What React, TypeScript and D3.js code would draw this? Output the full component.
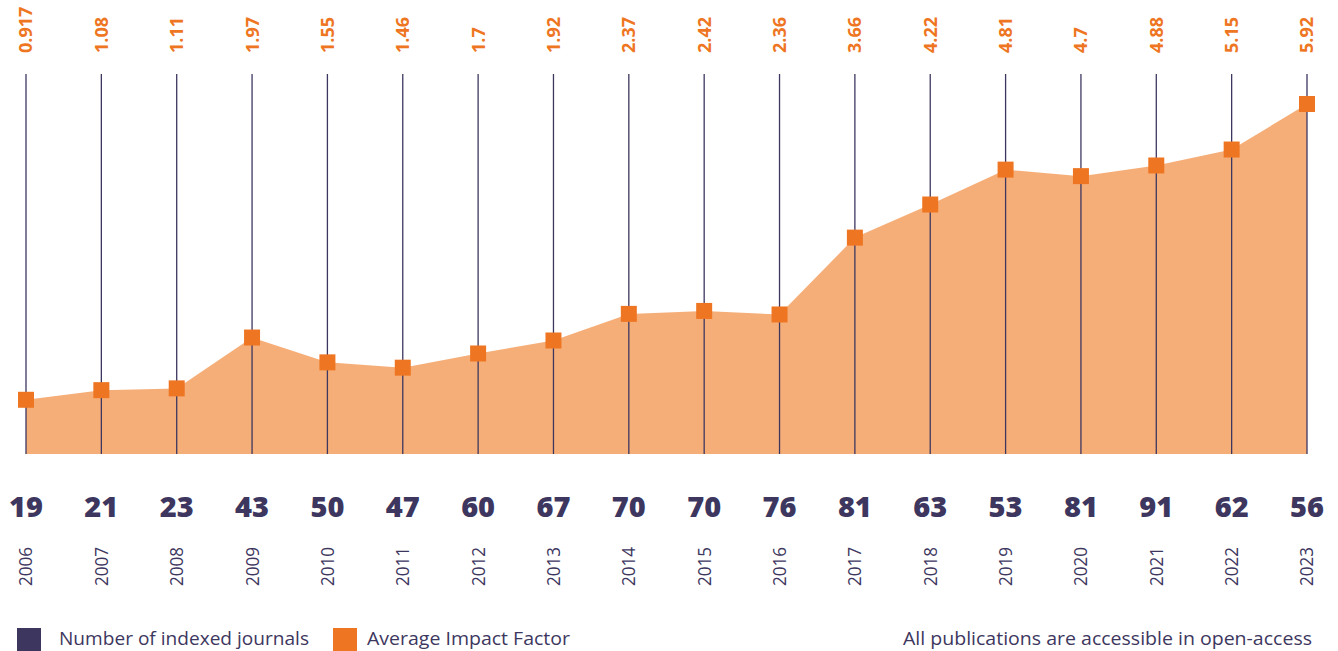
import React, { useEffect, useRef } from 'react';
import * as d3 from 'd3';

const years = ['2006', '2007', '2008', '2009', '2010', '2011', '2012', '2013', '2014', '2015', '2016', '2017', '2018', '2019', '2020', '2021', '2022', '2023'];
const journals = [19, 21, 23, 43, 50, 47, 60, 67, 70, 70, 76, 81, 63, 53, 81, 91, 62, 56];
const impact = [0.917, 1.08, 1.11, 1.97, 1.55, 1.46, 1.7, 1.92, 2.37, 2.42, 2.36, 3.66, 4.22, 4.81, 4.7, 4.88, 5.15, 5.92];
const legendItems = ['Number of indexed journals', 'Average Impact Factor'];
const note = 'All publications are accessible in open-access';

const PURPLE = '#3d3760';
const ORANGE = '#ee7623';
const AREA = '#f6ae78';

const App = () => {
  const chart = useRef<SVGSVGElement>(null);
  const width = 1338;
  const height = 651;
  const baseY = 454;
  const lineTop = 74;

  const x = d3.scalePoint<string>()
    .domain(years)
    .range([26, 1307]);

  const y = d3.scaleLinear()
    .domain([0, d3.max(impact) as number])
    .range([baseY, 104]);

  const draw = () => {
    const svg = d3.select(chart.current);
    svg.selectAll('*').remove();

    const rows = years.map((yr, i) => ({ yr, n: journals[i], v: impact[i] }));

    const area = d3.area<any>()
      .x(d => x(d.yr) as number)
      .y0(baseY)
      .y1(d => y(d.v));

    svg.append('path')
      .datum(rows)
      .attr('d', area)
      .attr('fill', AREA);

    // vertical guide lines
    svg.append('g')
      .selectAll('line')
      .data(rows)
      .join('line')
      .attr('x1', d => x(d.yr) as number)
      .attr('x2', d => x(d.yr) as number)
      .attr('y1', lineTop)
      .attr('y2', baseY)
      .attr('stroke', PURPLE)
      .attr('stroke-width', 1.3);

    // markers
    svg.append('g')
      .selectAll('rect')
      .data(rows)
      .join('rect')
      .attr('x', d => (x(d.yr) as number) - 8)
      .attr('y', d => y(d.v) - 8)
      .attr('width', 16)
      .attr('height', 16)
      .attr('fill', ORANGE);

    // impact factor labels on top
    svg.append('g')
      .selectAll('text')
      .data(rows)
      .join('text')
      .attr('transform', d => `translate(${x(d.yr)},53) rotate(-90)`)
      .attr('dy', '0.36em')
      .attr('text-anchor', 'start')
      .attr('font-family', '"Open Sans", sans-serif')
      .attr('font-weight', 700)
      .attr('font-size', 18)
      .attr('fill', ORANGE)
      .text(d => String(d.v));

    // journal counts
    svg.append('g')
      .selectAll('text')
      .data(rows)
      .join('text')
      .attr('x', d => x(d.yr) as number)
      .attr('y', 517)
      .attr('text-anchor', 'middle')
      .attr('font-family', '"Open Sans", sans-serif')
      .attr('font-weight', 800)
      .attr('font-size', 29)
      .attr('fill', PURPLE)
      .text(d => d.n);

    // years
    svg.append('g')
      .selectAll('text')
      .data(rows)
      .join('text')
      .attr('transform', d => `translate(${x(d.yr)},586) rotate(-90)`)
      .attr('dy', '0.36em')
      .attr('text-anchor', 'start')
      .attr('font-family', '"Open Sans", sans-serif')
      .attr('font-size', 18)
      .attr('textLength', 39)
      .attr('lengthAdjust', 'spacingAndGlyphs')
      .attr('fill', PURPLE)
      .text(d => d.yr);

    // legend
    const legend = svg.append('g');
    const lx = [17, 333];
    const tx = [59, 367];
    const lw = [250, 203];
    legendItems.forEach((label, i) => {
      legend.append('rect')
        .attr('x', lx[i])
        .attr('y', 628)
        .attr('width', 24)
        .attr('height', 23)
        .attr('fill', i === 0 ? PURPLE : ORANGE);
      legend.append('text')
        .attr('x', tx[i])
        .attr('y', 645)
        .attr('font-family', '"Open Sans", sans-serif')
        .attr('font-size', 19)
        .attr('textLength', lw[i])
        .attr('lengthAdjust', 'spacingAndGlyphs')
        .attr('fill', PURPLE)
        .text(label);
    });

    svg.append('text')
      .attr('x', 903)
      .attr('y', 645)
      .attr('font-family', '"Open Sans", sans-serif')
      .attr('font-size', 18)
      .attr('textLength', 409)
      .attr('lengthAdjust', 'spacingAndGlyphs')
      .attr('fill', PURPLE)
      .text(note);
  };

  useEffect(() => {
    draw();
  }, []);

  return (
    <svg
      ref={chart}
      width={width}
      height={height}
      viewBox={`0 0 ${width} ${height}`}
      style={{ position: 'absolute', left: 0, top: 0, background: '#fff' }}
    />
  );
};

export default App;
